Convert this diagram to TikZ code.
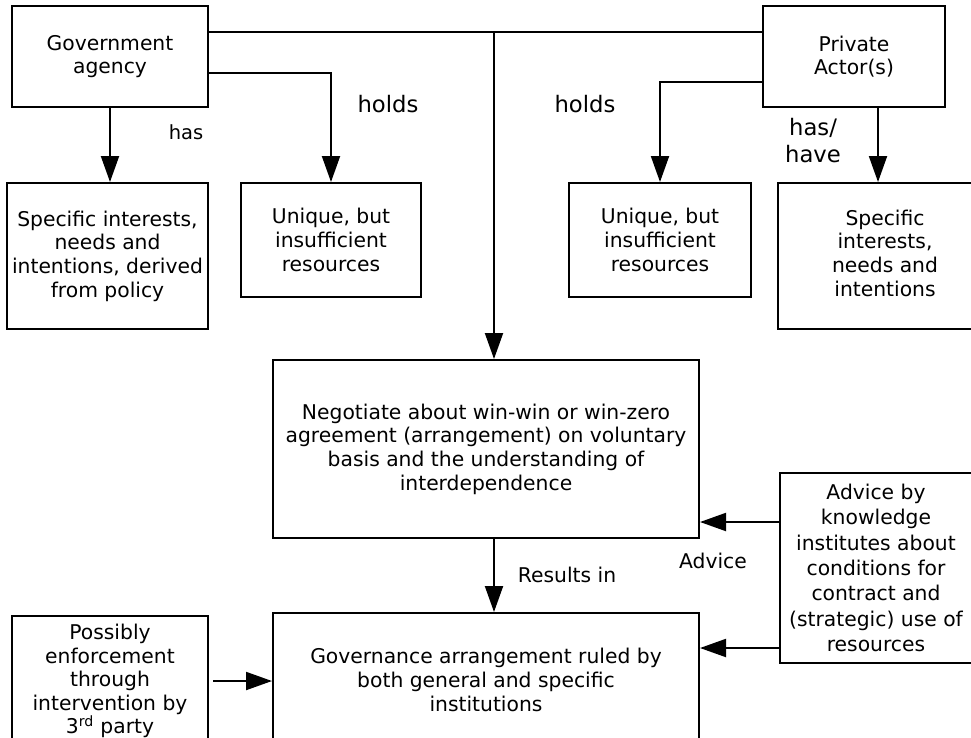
\documentclass[tikz,border=0pt]{standalone}
\usepackage{fontspec}
\setmainfont{DejaVu Sans}
\usetikzlibrary{arrows.meta}
\tikzset{
  box/.style={draw, line width=2pt, rectangle, align=center, inner sep=0pt,
    font=\fontsize{20.3pt}{23.6pt}\selectfont},
  lbl/.style={align=center, inner sep=0pt, font=\fontsize{20.3pt}{23.6pt}\selectfont},
  smalllbl/.style={align=center, inner sep=0pt, font=\fontsize{19.5pt}{23.6pt}\selectfont},
  biglbl/.style={align=center, inner sep=0pt, font=\fontsize{22.7pt}{27pt}\selectfont},
  conn/.style={line width=2pt},
  arr/.style={line width=2pt, -{Triangle[length=26pt,width=18pt]}},
}
\begin{document}
\begin{tikzpicture}[x=1pt,y=-1pt]
\useasboundingbox (0,0) rectangle (971,737);
\clip (0,0) rectangle (971,737);
% boxes
\node[box, minimum width=196pt, minimum height=101pt] (gov) at (110,56.5) {Government\\agency};
\node[box, minimum width=201pt, minimum height=146pt] (spec1) at (107.5,256) {Specific interests,\\needs and\\intentions, derived\\from policy};
\node[box, minimum width=180pt, minimum height=114pt] (uniq1) at (331,240) {Unique, but\\insufficient\\resources};
\node[box, minimum width=182pt, minimum height=101pt] (priv) at (854,56.5) {Private\\Actor(s)};
\node[box, minimum width=182pt, minimum height=114pt] (uniq2) at (660,240) {Unique, but\\insufficient\\resources};
\node[box, minimum width=214pt, minimum height=146pt] (spec2) at (885,256) {\raisebox{-8pt}{\begin{tabular}{@{}c@{}}Specific\\interests,\\needs and\\intentions\end{tabular}}};
\node[box, minimum width=426pt, minimum height=178pt] (nego) at (486,449) {Negotiate about win-win or win-zero\\agreement (arrangement) on voluntary\\basis and the understanding of\\interdependence};
\node[box, minimum width=426pt, minimum height=134pt] (gover) at (486,680) {Governance arrangement ruled by\\both general and specific\\institutions};
\node[box, minimum width=196pt, minimum height=130pt] (poss) at (110,681) {Possibly\\enforcement\\through\\intervention by\\3\textsuperscript{rd} party};
\node[box, minimum width=192pt, minimum height=190pt, font=\fontsize{20.3pt}{25.3pt}\selectfont] (adv) at (876,568) {Advice by\\knowledge\\institutes about\\conditions for\\contract and\\(strategic) use of\\resources};
% labels
\node[smalllbl] (lhas) at (186,132) {has};
\node[biglbl] (lholds1) at (388,104) {holds};
\node[biglbl] (lholds2) at (585,104) {holds};
\node[biglbl] (lhashave) at (813,141) {has/\\have};
\node[lbl] (ladvice) at (713,561) {Advice};
\node[lbl] (lresults) at (567,575) {Results in};
% connectors
\coordinate (j) at (494,32);
\draw[conn] (gov.east |- j) -- (priv.west |- j);
\draw[arr] (j) -- (j |- nego.north);
\draw[arr] ([yshift=-16.5pt]gov.east) -| (uniq1.north);
\draw[arr] (gov.south) -- (gov.south |- spec1.north);
\draw[arr] ([yshift=-25.5pt]priv.west) -| (uniq2.north);
\draw[arr] ([xshift=24pt]priv.south) -- ([xshift=24pt]priv.south |- spec2.north);
\draw[arr] (j |- nego.south) -- (j |- gover.north);
\draw[arr] ([xshift=4pt]poss.east) -- (poss.east -| gover.west);
\draw[arr] ([yshift=46pt]adv.west) -- ([yshift=46pt]adv.west -| nego.east);
\draw[arr] ([yshift=-80pt]adv.west) -- ([yshift=-80pt]adv.west -| gover.east);
\end{tikzpicture}
\end{document}
